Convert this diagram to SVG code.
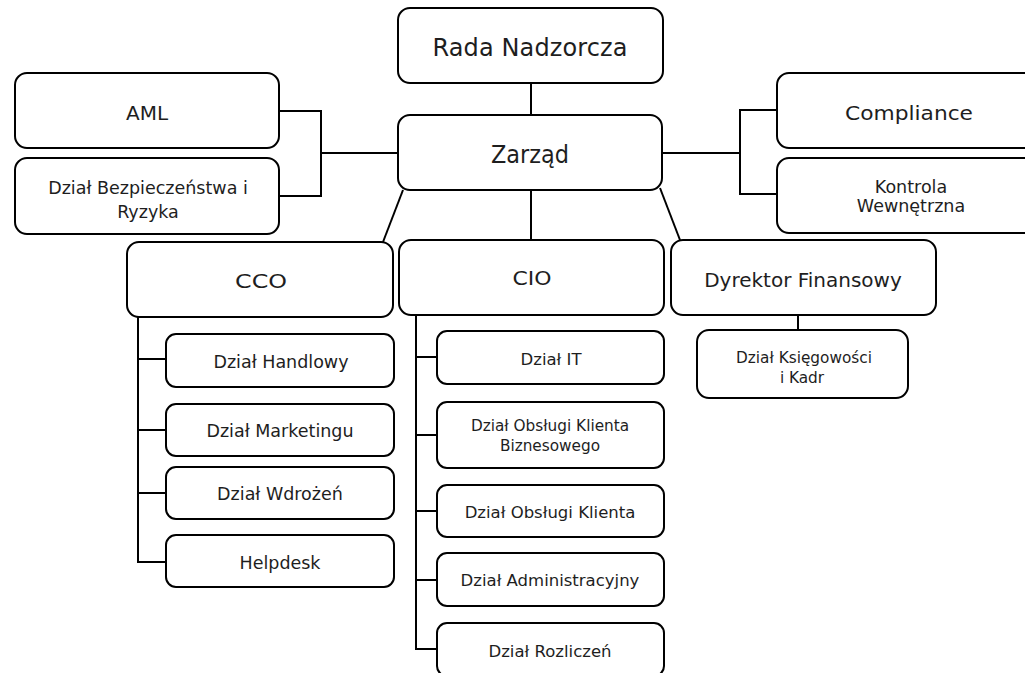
<svg xmlns="http://www.w3.org/2000/svg" width="1025" height="673" viewBox="0 0 1025 673">
<style>
.b{fill:#fff;stroke:#000;stroke-width:2}
.c{fill:none;stroke:#000;stroke-width:2}
text{font-family:"DejaVu Sans","Liberation Sans",sans-serif;fill:#1e1e1e;text-anchor:middle;dominant-baseline:central}
.t1{font-size:24px}.t2{font-size:20px}.t3{font-size:17.5px}.t4{font-size:16.5px}.t5{font-size:15.3px}
</style>
<rect width="1025" height="673" fill="#fff"/>
<g id="connectors">
<path class="c" d="M531 83V115"/>
<path class="c" d="M279 111H321V196H279M321 153H398"/>
<path class="c" d="M662 153H740M777 110H740V194H777"/>
<path class="c" d="M531 190V240"/>
<path class="c" d="M403 190L383 242"/>
<path class="c" d="M660 188L680 240"/>
<path class="c" d="M138 317V562H166M138 359H166M138 430H166M138 493H166"/>
<path class="c" d="M416 315V649H437M416 357H437M416 435H437M416 511H437M416 580H437"/>
<path class="c" d="M798 315V330"/>
</g>
<g id="rada"><rect class="b" x="398" y="8" width="265" height="75" rx="12"/><text class="t1" x="530" y="48" textLength="195">Rada Nadzorcza</text></g>
<g id="zarzad"><rect class="b" x="398" y="115" width="264" height="75" rx="12"/><text class="t1" x="530" y="155" textLength="78" lengthAdjust="spacingAndGlyphs">Zarząd</text></g>
<g id="aml"><rect class="b" x="15" y="73" width="264" height="75" rx="12"/><text class="t2" x="147" y="113">AML</text></g>
<g id="bezp"><rect class="b" x="15" y="158" width="264" height="76" rx="12"/><text class="t3" x="148" y="188">Dział Bezpieczeństwa i</text><text class="t3" x="148" y="212">Ryzyka</text></g>
<g id="compliance"><rect class="b" x="777" y="73" width="268" height="75" rx="12"/><text class="t2" x="909" y="113" textLength="128" lengthAdjust="spacingAndGlyphs">Compliance</text></g>
<g id="kontrola"><rect class="b" x="777" y="158" width="268" height="75" rx="12"/><text class="t3" x="911" y="187">Kontrola</text><text class="t3" x="911" y="206">Wewnętrzna</text></g>
<g id="cco"><rect class="b" x="127" y="242" width="266" height="75" rx="12"/><text class="t2" x="261" y="281" textLength="52" lengthAdjust="spacingAndGlyphs">CCO</text></g>
<g id="cio"><rect class="b" x="399" y="240" width="265" height="75" rx="12"/><text class="t2" x="532" y="278" textLength="39" lengthAdjust="spacingAndGlyphs">CIO</text></g>
<g id="dyrektor"><rect class="b" x="671" y="240" width="265" height="75" rx="12"/><text class="t2" x="803" y="280">Dyrektor Finansowy</text></g>
<g id="ksieg"><rect class="b" x="697" y="330" width="211" height="68" rx="12"/><text class="t5" x="804" y="358">Dział Księgowości</text><text class="t5" x="802" y="378">i Kadr</text></g>
<g id="handlowy"><rect class="b" x="166" y="334" width="228" height="53" rx="10"/><text class="t3" x="281" y="362">Dział Handlowy</text></g>
<g id="marketing"><rect class="b" x="166" y="404" width="228" height="52" rx="10"/><text class="t3" x="280" y="431">Dział Marketingu</text></g>
<g id="wdrozen"><rect class="b" x="166" y="467" width="228" height="52" rx="10"/><text class="t3" x="280" y="494">Dział Wdrożeń</text></g>
<g id="helpdesk"><rect class="b" x="166" y="535" width="228" height="52" rx="10"/><text class="t3" x="280" y="563">Helpdesk</text></g>
<g id="it"><rect class="b" x="437" y="331" width="227" height="53" rx="10"/><text class="t4" x="551" y="359">Dział IT</text></g>
<g id="biznes"><rect class="b" x="437" y="402" width="227" height="66" rx="10"/><text class="t5" x="550" y="426">Dział Obsługi Klienta</text><text class="t5" x="550" y="446">Biznesowego</text></g>
<g id="obsluga"><rect class="b" x="437" y="485" width="227" height="52" rx="10"/><text class="t4" x="550" y="512">Dział Obsługi Klienta</text></g>
<g id="admin"><rect class="b" x="437" y="553" width="227" height="53" rx="10"/><text class="t4" x="550" y="580">Dział Administracyjny</text></g>
<g id="rozliczen"><rect class="b" x="437" y="623" width="227" height="53" rx="10"/><text class="t4" x="550" y="651">Dział Rozliczeń</text></g>
</svg>
